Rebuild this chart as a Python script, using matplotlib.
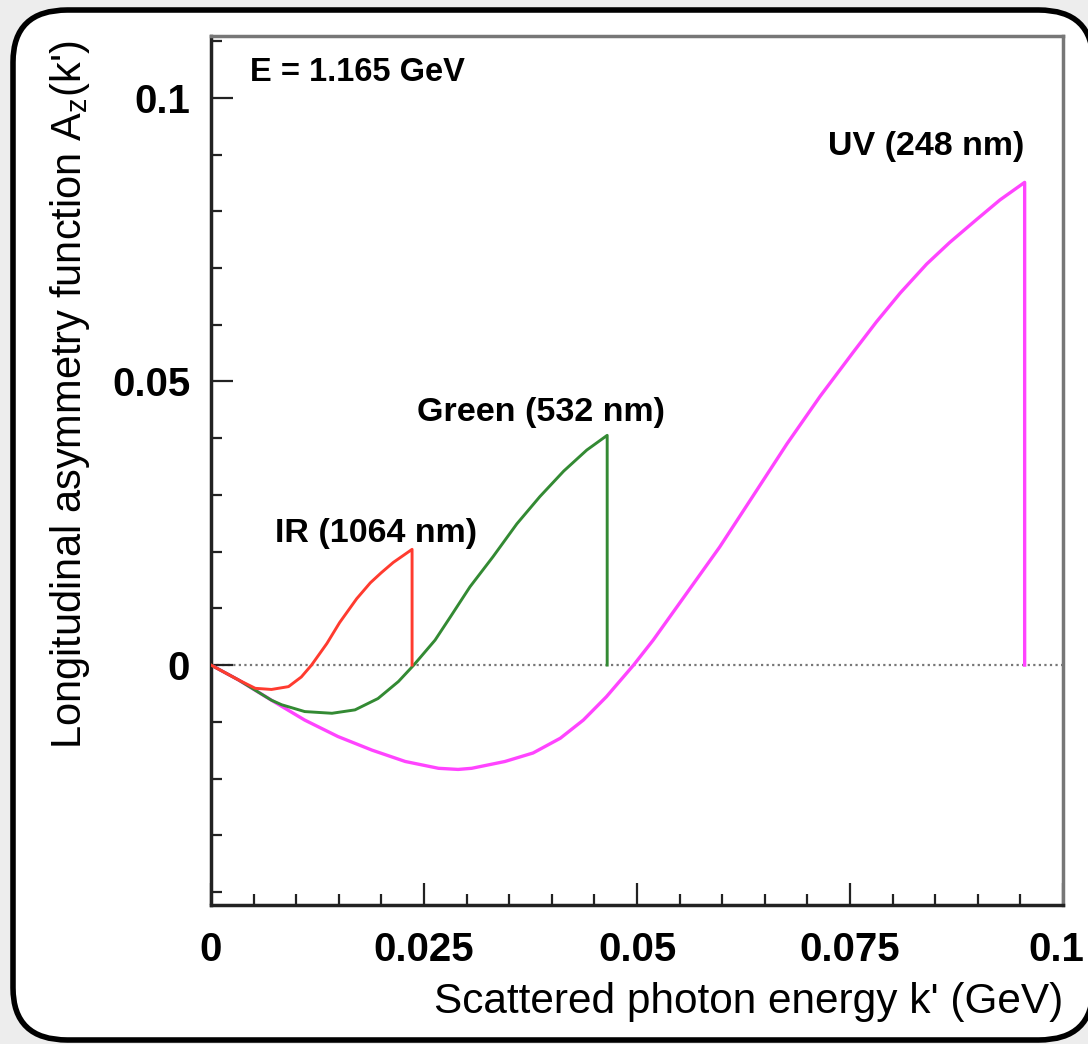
import matplotlib.pyplot as plt
from matplotlib.patches import FancyBboxPatch
from matplotlib.transforms import ScaledTranslation

plt.rcParams['font.family'] = ['Liberation Sans', 'DejaVu Sans']
plt.rcParams['mathtext.fontset'] = 'custom'
plt.rcParams['mathtext.rm'] = 'Liberation Sans'
plt.rcParams['mathtext.it'] = 'Liberation Sans'

# IR (1064 nm)
ir_k = [0, 0.0032, 0.0052, 0.0071, 0.0091, 0.0106, 0.0118, 0.0136, 0.0151, 0.0171, 0.0187,
        0.0200, 0.0214, 0.0236, 0.0236]
ir_a = [0, -0.0026, -0.0041, -0.0043, -0.0038, -0.0021, 0, 0.0038, 0.0075, 0.0117, 0.0145,
        0.0163, 0.0181, 0.0204, 0]

# Green (532 nm)
green_k = [0, 0.0032, 0.0071, 0.0083, 0.0110, 0.0142, 0.0169, 0.0196, 0.0220, 0.0238, 0.0263,
           0.0281, 0.0304, 0.0331, 0.0359, 0.0386, 0.0414, 0.0441, 0.0465, 0.0465]
green_a = [0, -0.0026, -0.0062, -0.0070, -0.0082, -0.0085, -0.0079, -0.0059, -0.0029, 0, 0.0044,
           0.0085, 0.0138, 0.0191, 0.0249, 0.0297, 0.0342, 0.0379, 0.0405, 0]

# UV (248 nm)
uv_k = [0, 0.0032, 0.0071, 0.0110, 0.0149, 0.0189, 0.0228, 0.0267, 0.0290, 0.0306, 0.0345,
        0.0378, 0.0410, 0.0437, 0.0464, 0.0496, 0.0519, 0.0558, 0.0597, 0.0637, 0.0676,
        0.0715, 0.0754, 0.0781, 0.0809, 0.0840, 0.0867, 0.0899, 0.0926, 0.0955, 0.0955]
uv_a = [0, -0.0026, -0.0062, -0.0097, -0.0126, -0.0150, -0.0170, -0.0182, -0.0184, -0.0182, -0.0170,
        -0.0155, -0.0129, -0.0097, -0.0056, 0, 0.0044, 0.0126, 0.0208, 0.0300, 0.0390,
        0.0474, 0.0552, 0.0605, 0.0656, 0.0707, 0.0745, 0.0786, 0.0820, 0.0851, 0]

fig = plt.figure(figsize=(10.88, 10.44), dpi=100, facecolor='#ededed')

# rounded frame around the picture
frame = FancyBboxPatch((13 / 1088, 4 / 1044), 1080 / 1088, 1030 / 1044,
                       boxstyle='round,pad=0,rounding_size=0.05',
                       transform=fig.transFigure, facecolor='white',
                       edgecolor='black', linewidth=4, zorder=-10)
fig.patches.append(frame)

ax = fig.add_axes([211 / 1088, 139 / 1044, 852 / 1088, 869 / 1044])
ax.set_zorder(5)
ax.set_facecolor('white')

ax.axhline(0, color='#777777', linestyle=(0, (1, 1.5)), linewidth=1.6, zorder=1)
ax.plot(uv_k, uv_a, color='#ff44ff', linewidth=2.4, zorder=2)
ax.plot(green_k, green_a, color='#338a33', linewidth=2.1, zorder=3)
ax.plot(ir_k, ir_a, color='#ff3b2f', linewidth=2.1, zorder=4)

ax.set_xlim(0, 0.1)
ax.set_ylim(-0.0423, 0.1109)

ax.set_xticks([0, 0.025, 0.05, 0.075, 0.1])
ax.set_xticklabels(['0', '0.025', '0.05', '0.075', '0.1'])
ax.set_xticks([i * 0.005 for i in range(21) if i % 5], minor=True)
ax.set_yticks([0, 0.05, 0.1])
ax.set_yticklabels(['0', '0.05', '0.1'])
ax.set_yticks([i * 0.01 for i in range(-4, 12) if i % 5], minor=True)

ax.tick_params(which='both', direction='in', top=False, right=False, width=1.6, color='#222222')
ax.tick_params(which='major', length=16)
ax.tick_params(which='minor', length=8)
ax.tick_params(axis='x', which='major', pad=19, labelsize=29)
ax.tick_params(axis='y', which='major', pad=15, labelsize=29)
for lab in ax.get_xticklabels() + ax.get_yticklabels():
    lab.set_fontweight('bold')

# last x label sits at the picture edge: nudge it inside
last = ax.get_xticklabels()[-1]
last.set_transform(last.get_transform() + ScaledTranslation(-7 / 100, 0, fig.dpi_scale_trans))

for side in ['left', 'bottom']:
    ax.spines[side].set_linewidth(2.5)
    ax.spines[side].set_color('#222222')
for side in ['top', 'right']:
    ax.spines[side].set_linewidth(2.5)
    ax.spines[side].set_color('#777777')

ax.set_xlabel("Scattered photon energy k' (GeV)", fontsize=30.5, ha='right', x=1.0)
ax.xaxis.set_label_coords(1.0, -0.089)
ax.set_ylabel("Longitudinal asymmetry function A$_z$(k')", fontsize=30)
ax.yaxis.set_label_coords(-0.14, 0.587)

ax.text(0.0046, 0.1044, 'E = 1.165 GeV', fontsize=23.5, fontweight='bold', va='center', ha='left')
ax.text(0.0194, 0.0232, 'IR (1064 nm)', fontsize=24.5, fontweight='bold', va='center', ha='center')
ax.text(0.0387, 0.0445, 'Green (532 nm)', fontsize=24.5, fontweight='bold', va='center', ha='center')
ax.text(0.0839, 0.0915, 'UV (248 nm)', fontsize=24.5, fontweight='bold', va='center', ha='center')

fig.savefig('out.png', dpi=100, facecolor=fig.get_facecolor())
